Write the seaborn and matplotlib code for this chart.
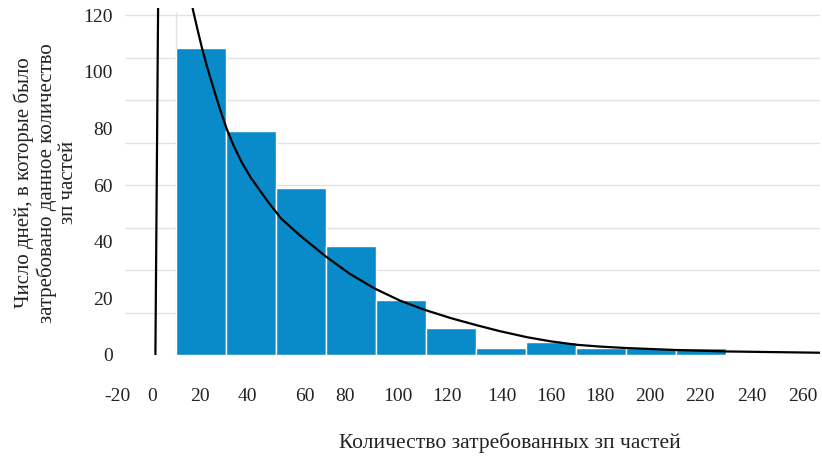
import numpy as np
import pandas as pd
import matplotlib
matplotlib.use("Agg")
import matplotlib.pyplot as plt
import seaborn as sns

# histogram: bin centres / heights
bin_centers = [20, 40, 60, 80, 100, 120, 140, 160, 180, 200, 220, 240]
bin_edges = [10, 30, 50, 70, 90, 110, 130, 150, 170, 190, 210, 230, 250]
counts = [108.5, 79, 59, 38.5, 19.5, 9.5, 2.5, 4.5, 2.5, 2.5, 2.5, 0.5]

# fitted curve, points (values outside 0..122 get clipped)
curve_x = [1.75, 2.85, 16.3, 16.9, 18.5, 20.3, 22.5, 24.9, 27.5, 30.3, 33, 36.3, 40,
           46.3, 52, 59.6, 69.6, 79.6, 89.6, 99.6, 109.6, 120, 130.3, 139.6, 150.3,
           160, 170.3, 180, 190.3, 210.3, 230.3, 267.6]
curve_y = [-1, 124, 124, 121.4, 115.3, 108.7, 101.5, 94.5, 87, 79.8, 74, 68, 62.5,
           54.7, 48.2, 42.2, 35.0, 28.6, 23.4, 19.2, 15.9, 13.0, 10.5, 8.4, 6.3,
           4.8, 3.6, 2.95, 2.45, 1.75, 1.25, 0.8]

ytick_vals = [0, 20, 40, 60, 80, 100, 120]
grid_vals = [15, 30, 45, 60, 75, 90, 105, 120]
xtick_labels = ["-20", "0", "20", "40", "60", "80", "100", "120", "140", "160",
                "180", "200", "220", "240", "260"]
xtick_pos = [-13.6, 0.4, 19.6, 38.4, 61.6, 77.6, 98.8, 118.4, 140.4, 160, 179.6,
             199.6, 219.6, 240.4, 260.8]

sns.set_style("white")
plt.rcParams['font.family'] = ['Liberation Serif', 'DejaVu Serif']

df = pd.DataFrame({'center': bin_centers, 'count': counts})

fig = plt.figure(figsize=(8.22, 4.57), dpi=100)
ax = fig.add_axes([0.1399, 0.2232, 0.8577, 0.7593])

ax.hlines(grid_vals, -10.4, 267.6, color='#e3e3e3', linewidth=1, zorder=0)
ax.vlines(10, 0, 121, color='#e3e3e3', linewidth=1, zorder=0)

sns.histplot(data=df, x='center', weights='count', bins=bin_edges, color='#0a8bc9',
             alpha=1, edgecolor='white', linewidth=1, ax=ax, zorder=2)
ax.plot(curve_x, curve_y, color='black', linewidth=1.6, zorder=3,
        solid_joinstyle='round')

ax.set_yticks(ytick_vals)
ax.set_xticks(xtick_pos)
ax.set_xticklabels(xtick_labels)
ax.set_xlim(-14.4, 267.6)
ax.set_ylim(0, 122.5)
ax.grid(False)
ax.tick_params(axis='both', which='both', length=0, labelsize=14, colors='#222222')
ax.tick_params(axis='x', pad=24)
ax.tick_params(axis='y', pad=1.5)
sns.despine(ax=ax, left=True, bottom=True)

ax.set_ylabel("Число дней, в которые было\nзатребовано данное количество\nзп частей",
              fontsize=15, color='#222222', linespacing=1.15)
ax.yaxis.set_label_coords(-0.0525, 0.496)
ax.set_xlabel("Количество затребованных зп частей", fontsize=15.5, color='#222222')
ax.xaxis.set_label_coords(0.560, -0.222)

plt.savefig("out.png", dpi=100)
